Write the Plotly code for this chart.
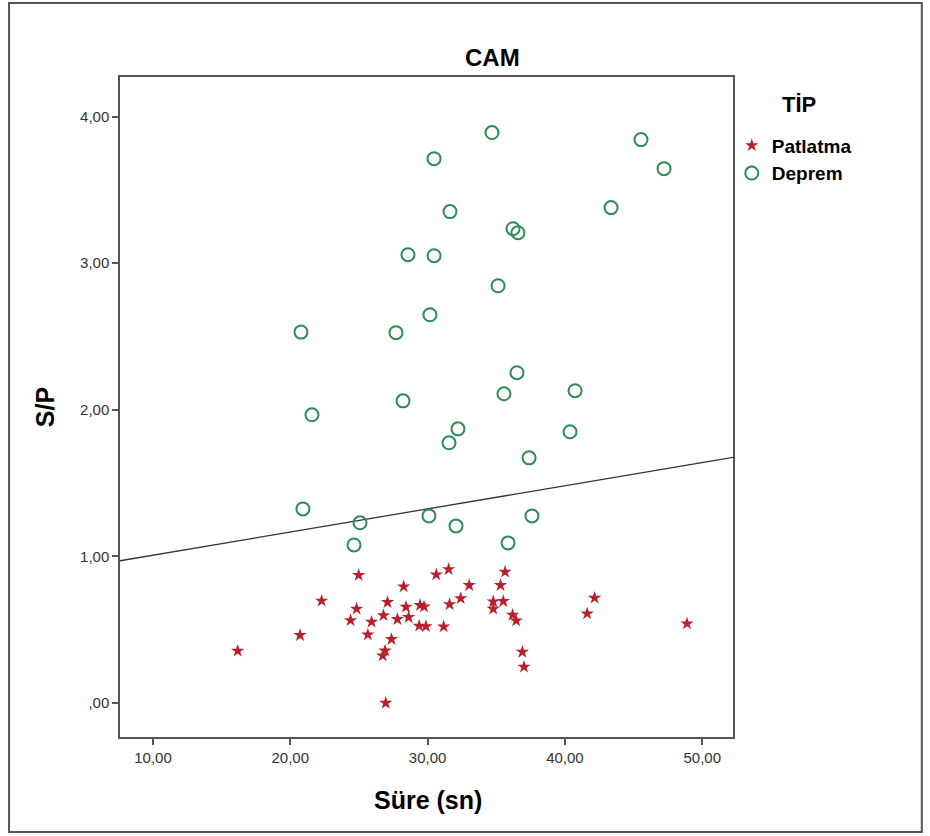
import plotly.graph_objects as go

# Deprem (earthquake) points: Süre (sn), S/P
deprem_x = [20.78, 21.58, 20.92, 25.08, 24.64, 27.70, 28.57, 28.21, 30.47, 30.47,
            30.17, 30.10, 31.63, 31.56, 32.21, 32.07, 34.69, 35.13, 36.22, 36.58,
            35.56, 36.51, 35.86, 37.39, 37.60, 40.37, 40.74, 43.36, 45.54, 47.22]
deprem_y = [2.53, 1.966, 1.324, 1.229, 1.078, 2.526, 3.058, 2.061, 3.713, 3.051,
            2.648, 1.276, 3.352, 1.775, 1.870, 1.208, 3.891, 2.846, 3.235, 3.208,
            2.109, 2.253, 1.092, 1.672, 1.276, 1.850, 2.130, 3.379, 3.843, 3.645]

# Patlatma (blast) points
patlatma_x = [16.17, 20.71, 22.28, 24.98, 24.83, 24.39, 25.92, 25.65, 27.08, 26.79,
              27.37, 26.90, 26.73, 26.95, 28.26, 28.43, 27.80, 28.62, 29.45, 29.74,
              29.39, 29.88, 30.63, 31.53, 33.03, 31.60, 32.41, 31.17, 35.64, 35.31,
              35.51, 34.78, 34.78, 36.19, 36.45, 36.90, 37.02, 42.16, 41.62, 48.89]
patlatma_y = [0.355, 0.462, 0.696, 0.872, 0.642, 0.564, 0.553, 0.466, 0.687, 0.598,
              0.435, 0.357, 0.323, 0.000, 0.794, 0.655, 0.571, 0.585, 0.667, 0.657,
              0.526, 0.523, 0.876, 0.912, 0.803, 0.673, 0.714, 0.521, 0.894, 0.803,
              0.694, 0.692, 0.642, 0.601, 0.562, 0.348, 0.246, 0.717, 0.610, 0.541]

# Fit line (total)
fit_intercept = 0.85
fit_slope = 0.0158

x_range = [7.6, 52.24]
y_range = [-0.232, 4.27]

x_ticks = [10, 20, 30, 40, 50]
x_ticktext = ["10,00", "20,00", "30,00", "40,00", "50,00"]
y_ticks = [0, 1, 2, 3, 4]
y_ticktext = [",00", "1,00", "2,00", "3,00", "4,00"]

FONT = "Liberation Sans, Arial, sans-serif"

fig = go.Figure()

fit_x = x_range
fit_y = [fit_intercept + fit_slope * v for v in fit_x]
fig.add_trace(go.Scatter(x=fit_x, y=fit_y, mode="lines",
                         line=dict(color="#333333", width=1.3),
                         showlegend=False, hoverinfo="skip"))

fig.add_trace(go.Scatter(x=patlatma_x, y=patlatma_y, mode="markers", name="Patlatma",
                         marker=dict(symbol="star", size=10, color="#b8202a",
                                     line=dict(width=0))))
fig.add_trace(go.Scatter(x=deprem_x, y=deprem_y, mode="markers", name="Deprem",
                         marker=dict(symbol="circle-open", size=13, color="#2e8b57",
                                     line=dict(width=2, color="#2e8b57"))))

axis_common = dict(showgrid=False, zeroline=False, showline=True, linecolor="#555555",
                   linewidth=1.5, mirror=True, ticks="outside", ticklen=6, tickwidth=1.5,
                   tickcolor="#555555", tickfont=dict(family=FONT, size=15, color="#333333"))

fig.update_xaxes(range=x_range, tickvals=x_ticks, ticktext=x_ticktext, **axis_common)
fig.update_yaxes(range=y_range, tickvals=y_ticks, ticktext=y_ticktext, **axis_common)

annotations = [
    dict(text="<b>CAM</b>", x=0.607, y=1.030, xref="paper", yref="paper",
         xanchor="center", yanchor="middle",
         showarrow=False, font=dict(family=FONT, size=24, color="black")),
    dict(text="<b>Süre (sn)</b>", x=0.503, y=-0.095, xref="paper", yref="paper",
         xanchor="center", yanchor="middle",
         showarrow=False, font=dict(family=FONT, size=25, color="black")),
    dict(text="<b>S/P</b>", x=-0.122, y=0.5, xref="paper", yref="paper",
         xanchor="center", yanchor="middle",
         showarrow=False, textangle=-90, font=dict(family=FONT, size=25, color="black")),
    dict(text="<b>TİP</b>", x=1.108, y=0.958, xref="paper", yref="paper",
         xanchor="center", yanchor="middle",
         showarrow=False, font=dict(family=FONT, size=22, color="black")),
]

fig.update_layout(
    width=930, height=836,
    margin=dict(l=120, r=197, t=77, b=99),
    paper_bgcolor="white", plot_bgcolor="white",
    annotations=annotations,
    showlegend=True,
    legend=dict(x=0.998, y=0.925, xanchor="left", yanchor="top",
                font=dict(family=FONT, size=19, color="black", weight="bold"),
                itemwidth=30, tracegroupgap=0, bgcolor="rgba(0,0,0,0)"),
    shapes=[dict(type="rect", xref="paper", yref="paper",
                 x0=-0.181, x1=1.308, y0=-0.144, y1=1.112,
                 line=dict(color="#555555", width=2))],
)

fig.write_html("out.html")
